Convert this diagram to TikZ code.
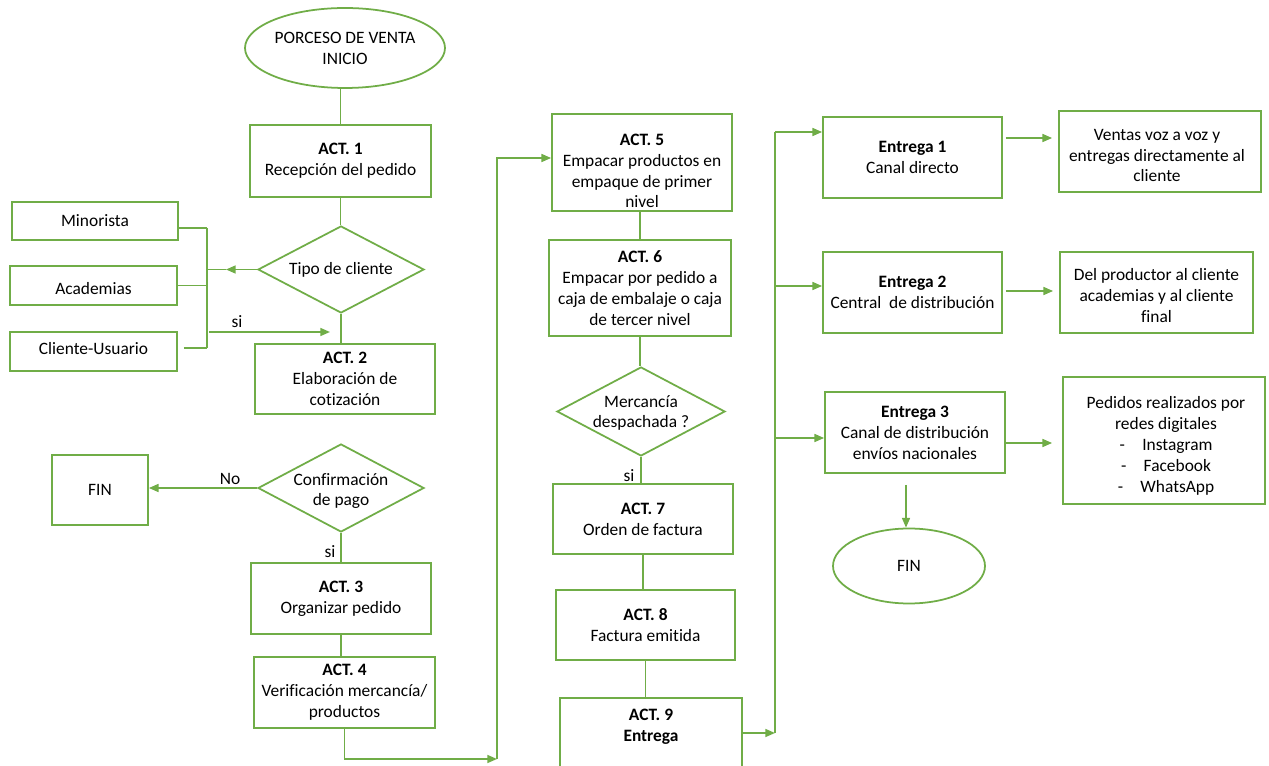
\documentclass[tikz,border=0pt]{standalone}
\usepackage{fontspec}
\setmainfont[Ligatures=NoCommon]{Carlito}
\usetikzlibrary{shapes.geometric,arrows.meta,calc}
\definecolor{gr}{HTML}{70AD47}
\begin{document}
\begin{tikzpicture}[x=0.02cm,y=-0.02cm,
  font=\fontsize{9.9pt}{11.9pt}\selectfont,
  conn/.style={draw=gr,line width=1pt},
  arr/.style={conn,-{Triangle[length=5.5pt,width=4.5pt]}},
  box/.style 2 args={draw=gr,line width=1pt,rectangle,inner sep=0pt,align=center,minimum width=#1*0.02cm,minimum height=#2*0.02cm},
  oval/.style 2 args={draw=gr,line width=1pt,ellipse,inner sep=0pt,align=center,minimum width=#1*0.02cm,minimum height=#2*0.02cm},
  dia/.style 2 args={draw=gr,line width=1pt,diamond,inner sep=0pt,minimum width=#1*0.02cm,minimum height=#2*0.02cm},
  txt/.style={align=center,inner sep=0pt}]
\fill[white] (0,0) rectangle (1269,766);
\useasboundingbox (0,0) rectangle (1269,766);

% column 1
\node[oval={200}{80}] (e0) at (345,48) {PORCESO DE VENTA\\INICIO};
\node[box={181}{72}] (a1) at (340.5,161) {\textbf{ACT. 1}\\Recepción del pedido};
\node[dia={166}{87}] (d1) at (341,269.5) {};
\node[txt] (d1t) at (341,269.5) {Tipo de cliente};
\node[box={166}{38}] (min) at (95,221) {Minorista};
\node[box={167}{39}] (aca) at (93.5,285.5) {};
\node[txt] (acat) at (93.5,289) {Academias};
\node[box={167}{39}] (cli) at (93.5,351.5) {};
\node[txt] (clit) at (93.5,348.5) {Cliente-Usuario};
\node[box={180}{70}] (a2) at (345,379) {\textbf{ACT. 2}\\Elaboración de\\cotización};
\node[dia={166}{88}] (d2) at (341,488) {};
\node[txt] (d2t) at (341,491) {Confirmación\\de pago};
\node[box={96}{70}] (fin1) at (100,490) {FIN};
\node[box={180}{71}] (a3) at (341,598.5) {\textbf{ACT. 3}\\Organizar pedido};
\node[box={181}{71}] (a4) at (344.5,692.5) {\textbf{ACT. 4}\\Verificación mercancía/\\productos};

% column 2
\node[box={180}{97}] (a5) at (642,162.5) {};
\node[txt] (a5t) at (642,171) {\textbf{ACT. 5}\\Empacar productos en\\empaque de primer\\nivel};
\node[box={182}{96}] (a6) at (640,288) {\textbf{ACT. 6}\\Empacar por pedido a\\caja de embalaje o caja\\de tercer nivel};
\node[dia={168}{89}] (d3) at (641,411.5) {};
\node[txt] (d3t) at (641,413) {Mercancía\\despachada ?};
\node[box={180}{70}] (a7) at (643,519) {\textbf{ACT. 7}\\Orden de factura};
\node[box={179}{70}] (a8) at (645.5,625) {\textbf{ACT. 8}\\Factura emitida};
\node[box={182}{92}] (a9) at (651,744) {};
\node[txt] (a9t) at (651,726.5) {\textbf{ACT. 9}\\\textbf{Entrega}};

% column 3 and 4
\node[box={179}{81}] (e1) at (912.5,157.5) {\textbf{Entrega 1}\\Canal directo};
\node[box={179}{81}] (e2) at (912.5,292.5) {\textbf{Entrega 2}\\Central\ \ de distribución};
\node[box={180}{81}] (e3) at (915,432.5) {\textbf{Entrega 3}\\Canal de distribución\\envíos nacionales};
\node[box={202}{81}] (ven) at (1160,151.5) {};
\node[txt] (vent) at (1157,155.5) {Ventas voz a voz y\\entregas directamente al\\cliente};
\node[box={193}{81}] (del) at (1156.5,292.5) {};
\node[txt] (delt) at (1156.5,295.5) {Del productor al cliente\\academias y al cliente\\final};
\node[box={202}{127}] (ped) at (1164,440.5) {};
\node[txt] (pedt) at (1166,446) {Pedidos realizados por\\redes digitales\\-\quad Instagram\\-\quad Facebook\\-\quad WhatsApp};
\node[oval={152}{75}] (fin2) at (909,566) {FIN};

% connectors column 1
\draw[conn] (a1.north) -- (a1.north |- e0.south);
\draw[conn] (a1.south) -- (a1.south |- d1.north);
\draw[conn] (d1.south) -- (d1.south |- a2.north);
\coordinate (ah1) at (226,269.5);
\coordinate (bus1) at (207,269.5);
\draw[arr] (d1.west) -- (ah1);
\draw[conn] (ah1) -- (bus1);
\coordinate (bt) at (207,228);
\coordinate (bb) at (207,348);
\draw[conn] (bt) -- (bb);
\draw[conn] (min.east |- bt) -- (bt);
\draw[conn] (aca.east) -- (aca.east -| bt);
\draw[conn] ($(cli.east |- bb)+(6,0)$) -- (bb);
\coordinate (sia) at (209,332);
\coordinate (sib) at (330,332);
\draw[arr] (sia) -- (sib);
\node (si1) at (237,322) {si};
\draw[arr] (d2.west) -- (d2.west -| fin1.east);
\node (no) at (230,479) {No};
\draw[conn] (d2.south) -- (d2.south |- a3.north);
\node (si2) at (330,552) {si};
\draw[conn] (a3.south) -- (a3.south |- a4.north);
\coordinate (c4) at (497,759);
\draw[arr] (a4.south) |- (c4);
\draw[arr] (c4) |- ($(a5.west)+(0,-4.5)$);

% connectors column 2
\draw[conn] (a6.north |- a5.south) -- (a6.north);
\draw[conn] (a6.south) -- (a6.south |- d3.north);
\draw[conn] (d3.south) -- (d3.south |- a7.north);
\node (si3) at (629,476) {si};
\draw[conn] (a7.south) -- (a7.south |- a8.north);
\draw[conn] (a8.south) -- (a8.south |- a9.north);
\coordinate (c9) at (775,733);
\draw[arr] (a9.east |- c9) -- (c9);
\coordinate (b1) at (775,132);
\coordinate (b2) at (775,286);
\coordinate (b3) at (775,438);
\draw[conn] (c9) -- (b1);
\draw[arr] (b1) -- (b1 -| e1.west);
\draw[arr] (b2) -- (b2 -| e2.west);
\draw[arr] (b3) -- (b3 -| e3.west);

% connectors column 3
\draw[arr] ($(e1.east)+(3,-19.5)$) -- ($(ven.west)+(-6,-13.5)$);
\draw[arr] ($(e2.east)+(3,-1.5)$) -- ($(del.west)+(-6,-1.5)$);
\draw[arr] ($(e3.east)+(0,10.5)$) -- ($(ped.west)+(-10,2.5)$);
\draw[arr] ($(e3.south)+(-9,11)$) -- ($(fin2.north)+(-3,0)$);
\end{tikzpicture}
\end{document}
